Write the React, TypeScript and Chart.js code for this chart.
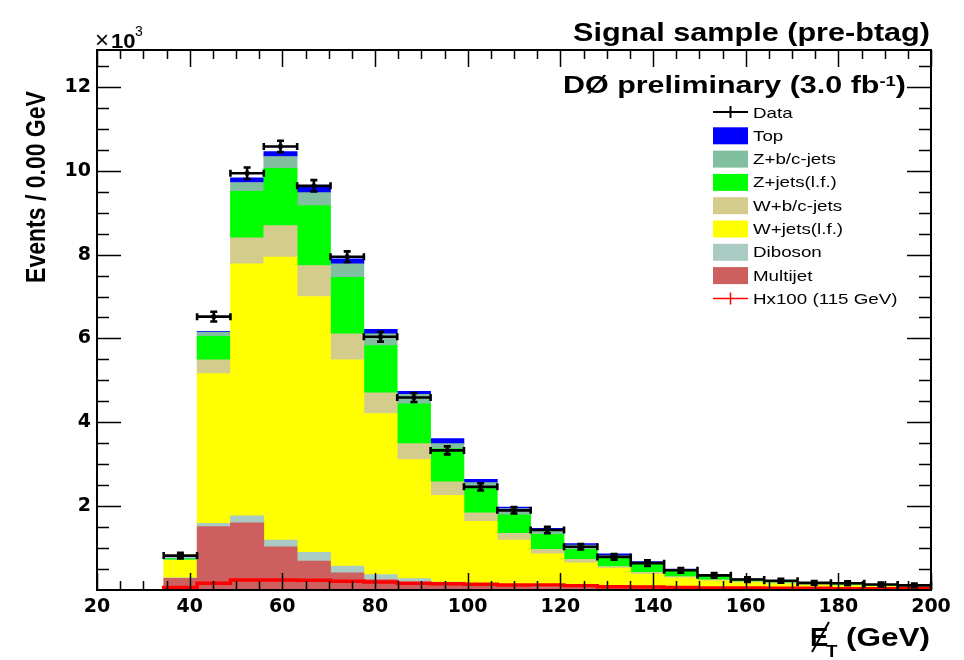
import React, { useEffect, useRef } from 'react';
import { Chart, registerables } from 'chart.js';

Chart.register(...registerables);

// ---- data (values in units of 10^3 events) ----
const binEdges = [20, 27.2, 34.4, 41.6, 48.8, 56, 63.2, 70.4, 77.6, 84.8, 92, 99.2, 106.4, 113.6, 120.8, 128, 135.2, 142.4, 149.6, 156.8, 164, 171.2, 178.4, 185.6, 192.8, 200];

const multijet = [0, 0, 0.28, 1.51, 1.60, 1.03, 0.69, 0.41, 0.25, 0.18, 0.13, 0.10, 0.08, 0.06, 0.05, 0.04, 0.03, 0.03, 0.02, 0.02, 0.02, 0.01, 0.01, 0.01, 0.01];
const diboson = [0, 0, 0.01, 0.08, 0.17, 0.16, 0.21, 0.16, 0.12, 0.09, 0.06, 0.04, 0.03, 0.03, 0.02, 0.02, 0.02, 0.01, 0.01, 0.01, 0.00, 0.01, 0.01, 0.01, 0.00];
const wjetsLF = [0, 0, 0.42, 3.57, 6.01, 6.75, 6.10, 4.92, 3.84, 2.84, 2.07, 1.50, 1.08, 0.77, 0.58, 0.46, 0.33, 0.25, 0.19, 0.15, 0.13, 0.10, 0.08, 0.06, 0.06];
const wbcJets = [0, 0, 0.01, 0.33, 0.62, 0.75, 0.74, 0.62, 0.49, 0.38, 0.32, 0.20, 0.16, 0.11, 0.08, 0.04, 0.04, 0.03, 0.02, 0.02, 0.02, 0.01, 0.01, 0.01, 0.01];
const zjetsLF = [0, 0, 0.03, 0.56, 1.11, 1.37, 1.43, 1.35, 1.13, 0.95, 0.79, 0.58, 0.44, 0.36, 0.24, 0.20, 0.19, 0.13, 0.10, 0.05, 0.03, 0.02, 0.02, 0.01, 0.01];
const zbcJets = [0, 0, 0.00, 0.10, 0.21, 0.28, 0.31, 0.32, 0.28, 0.23, 0.12, 0.14, 0.15, 0.09, 0.10, 0.06, 0.04, 0.03, 0.02, 0.02, 0.01, 0.01, 0.01, 0.01, 0.00];
const topQuark = [0, 0, 0.01, 0.02, 0.11, 0.12, 0.14, 0.12, 0.11, 0.07, 0.12, 0.08, 0.04, 0.05, 0.04, 0.04, 0.03, 0.02, 0.01, 0.01, 0.01, 0.01, 0.01, 0.01, 0.01];

const dataValues = [0, 0, 0.82, 6.52, 9.94, 10.58, 9.64, 7.95, 6.04, 4.59, 3.33, 2.46, 1.90, 1.43, 1.03, 0.79, 0.64, 0.47, 0.35, 0.25, 0.22, 0.17, 0.16, 0.13, 0.11];
const dataErrors = [0, 0, 0.03, 0.08, 0.10, 0.10, 0.10, 0.09, 0.08, 0.07, 0.06, 0.05, 0.04, 0.04, 0.03, 0.03, 0.03, 0.02, 0.02, 0.02, 0.01, 0.01, 0.01, 0.01, 0.01];
const signalHx100 = [0, 0, 0.02, 0.06, 0.16, 0.24, 0.24, 0.23, 0.21, 0.19, 0.16, 0.15, 0.14, 0.12, 0.12, 0.10, 0.08, 0.07, 0.06, 0.05, 0.05, 0.04, 0.04, 0.03, 0.03];

const xTickLabels = [20, 40, 60, 80, 100, 120, 140, 160, 180, 200];
const yTickLabels = [2, 4, 6, 8, 10, 12];

const backgrounds = [
  { label: 'Multijet', values: multijet, color: '#cd5f5f' },
  { label: 'Diboson', values: diboson, color: '#aacbc3' },
  { label: 'W+jets(l.f.)', values: wjetsLF, color: '#ffff00' },
  { label: 'W+b/c-jets', values: wbcJets, color: '#d4cc8c' },
  { label: 'Z+jets(l.f.)', values: zjetsLF, color: '#00ff00' },
  { label: 'Z+b/c-jets', values: zbcJets, color: '#80c0a0' },
  { label: 'Top', values: topQuark, color: '#0000ff' },
];

const legendOrder = ['Data', 'Top', 'Z+b/c-jets', 'Z+jets(l.f.)', 'W+b/c-jets', 'W+jets(l.f.)', 'Diboson', 'Multijet', 'Hx100 (115 GeV)'];

const binCenters = binEdges.slice(0, -1).map((e, i) => (e + binEdges[i + 1]) / 2);

const SANS = '"Liberation Sans", Arial, Helvetica, sans-serif';

function drawStretched(ctx: CanvasRenderingContext2D, text: string, x: number, y: number, font: string, sx: number) {
  ctx.save();
  ctx.font = font;
  ctx.textAlign = 'left';
  ctx.textBaseline = 'alphabetic';
  ctx.translate(x, y);
  ctx.scale(sx, 1);
  ctx.fillText(text, 0, 0);
  ctx.restore();
  ctx.font = font;
  return ctx.measureText(text).width * sx;
}

const framePlugin = {
  id: 'frameTicks',
  afterDatasetsDraw(chart: any) {
    const { ctx, chartArea, scales } = chart;
    const { left, right, top, bottom } = chartArea;
    const xs = scales.x;
    const ys = scales.y;
    ctx.save();
    // error bars on data
    ctx.strokeStyle = '#000';
    ctx.lineWidth = 2.6;
    ctx.beginPath();
    dataValues.forEach((v, i) => {
      if (v <= 0) return;
      const xl = xs.getPixelForValue(binEdges[i]);
      const xr = xs.getPixelForValue(binEdges[i + 1]);
      const xc = xs.getPixelForValue(binCenters[i]);
      const yc = ys.getPixelForValue(v);
      const yh = ys.getPixelForValue(v + dataErrors[i]);
      const yl = ys.getPixelForValue(v - dataErrors[i]);
      ctx.moveTo(xl, yc); ctx.lineTo(xr, yc);
      ctx.moveTo(xl, yc - 3.5); ctx.lineTo(xl, yc + 3.5);
      ctx.moveTo(xr, yc - 3.5); ctx.lineTo(xr, yc + 3.5);
      ctx.moveTo(xc, yh - 1.5); ctx.lineTo(xc, yl + 1.5);
      ctx.moveTo(xc - 3.5, yh - 1.5); ctx.lineTo(xc + 3.5, yh - 1.5);
      ctx.moveTo(xc - 3.5, yl + 1.5); ctx.lineTo(xc + 3.5, yl + 1.5);
    });
    ctx.stroke();

    // frame
    ctx.lineWidth = 2;
    ctx.strokeRect(left, top, right - left, bottom - top);
    // ticks (inward, ROOT style)
    ctx.lineWidth = 1.5;
    ctx.beginPath();
    for (let v = 20; v <= 200.001; v += 5) {
      const px = Math.round(xs.getPixelForValue(v)) + 0.5;
      const major = Math.abs(v % 20) < 0.001;
      const L = major ? 17 : 9;
      ctx.moveTo(px, bottom); ctx.lineTo(px, bottom - L);
      ctx.moveTo(px, top); ctx.lineTo(px, top + L);
    }
    for (let v = 0.5; v <= ys.max; v += 0.5) {
      const py = Math.round(ys.getPixelForValue(v)) + 0.5;
      const major = Math.abs(v % 2) < 0.001;
      const L = major ? 24 : 12;
      ctx.moveTo(left, py); ctx.lineTo(left + L, py);
      ctx.moveTo(right, py); ctx.lineTo(right - L, py);
    }
    ctx.stroke();
    ctx.restore();
  },
  afterDraw(chart: any) {
    const { ctx } = chart;
    ctx.save();
    ctx.fillStyle = '#000';

    // Title
    {
      const font = `bold 25px ${SANS}`;
      ctx.font = font;
      const w = ctx.measureText('Signal sample (pre-btag)').width;
      const sx = (930 - 573) / w;
      drawStretched(ctx, 'Signal sample (pre-btag)', 573, 41, font, sx);
    }
    // DØ preliminary
    {
      const f1 = `bold 23px ${SANS}`;
      const f2 = `bold 14px ${SANS}`;
      ctx.font = f1;
      const wa = ctx.measureText('DØ preliminary (3.0 fb').width;
      const wc = ctx.measureText(')').width;
      ctx.font = f2;
      const wb = ctx.measureText('-1').width;
      const sx = (906 - 563) / (wa + wb + wc);
      let x = 563;
      x += drawStretched(ctx, 'DØ preliminary (3.0 fb', x, 93, f1, sx);
      x += drawStretched(ctx, '-1', x, 86, f2, sx);
      drawStretched(ctx, ')', x, 93, f1, sx);
    }
    // x10^3
    {
      drawStretched(ctx, '×', 95, 48, `24px ${SANS}`, 1.0);
      drawStretched(ctx, '10', 111, 48, `bold 21px ${SANS}`, 1.05);
      drawStretched(ctx, '3', 135, 36, `14px ${SANS}`, 1.0);
    }
    // y axis title
    {
      ctx.save();
      ctx.translate(45, 187);
      ctx.rotate(-Math.PI / 2);
      ctx.scale(1, 1.2);
      ctx.font = `bold 23px ${SANS}`;
      ctx.textAlign = 'center';
      ctx.textBaseline = 'alphabetic';
      ctx.fillText('Events / 0.00 GeV', 0, 0);
      ctx.restore();
    }
    // x axis title: E-slash_T (GeV)
    {
      const f = `bold 25px ${SANS}`;
      drawStretched(ctx, 'E', 810, 646, f, 1.1);
      ctx.strokeStyle = '#000';
      ctx.lineWidth = 2;
      ctx.beginPath();
      ctx.moveTo(812, 652);
      ctx.lineTo(829, 622);
      ctx.stroke();
      drawStretched(ctx, 'T', 826, 657, `bold 17px ${SANS}`, 1.1);
      ctx.font = f;
      const w = ctx.measureText('(GeV)').width;
      drawStretched(ctx, '(GeV)', 846, 646, f, (930 - 846) / w);
    }
    // legend
    {
      const colors: Record<string, string> = {};
      backgrounds.forEach((b) => { colors[b.label] = b.color; });
      const lf = `15px ${SANS}`;
      legendOrder.forEach((label, i) => {
        const cy = 112 + i * 23.3;
        const bx = 713;
        const bw = 35;
        if (label === 'Data' || label.startsWith('Hx')) {
          ctx.strokeStyle = label === 'Data' ? '#000' : '#ff0000';
          ctx.lineWidth = label === 'Data' ? 2 : 1.5;
          ctx.beginPath();
          ctx.moveTo(bx, cy); ctx.lineTo(bx + bw, cy);
          ctx.moveTo(bx + bw / 2, cy - 6); ctx.lineTo(bx + bw / 2, cy + 6);
          ctx.stroke();
        } else {
          ctx.fillStyle = colors[label];
          ctx.fillRect(bx, cy - 8, bw, 17);
        }
        ctx.fillStyle = '#000';
        drawStretched(ctx, label, 753, cy + 5.5, lf, 1.25);
      });
    }
    ctx.restore();
  },
};

export default function App() {
  const ref = useRef<HTMLCanvasElement>(null);

  useEffect(() => {
    const canvas = ref.current;
    if (!canvas) return;

    const barSets = backgrounds.map((b) => ({
      type: 'bar' as const,
      label: b.label,
      data: binCenters.map((x, i) => ({ x, y: b.values[i] })),
      backgroundColor: b.color,
      borderWidth: 0,
      barPercentage: 1,
      categoryPercentage: 1,
      stack: 'bkg',
    }));

    const chart = new Chart(canvas, {
      type: 'bar',
      data: {
        datasets: [
          {
            type: 'line',
            label: 'Data',
            data: binCenters.map((x, i) => ({ x, y: dataValues[i] > 0 ? dataValues[i] : null })),
            showLine: false,
            pointStyle: 'rect',
            pointRadius: 3,
            pointBackgroundColor: '#000',
            pointBorderColor: '#000',
            pointBorderWidth: 0,
            stack: 'data',
          } as any,
          {
            type: 'line',
            label: 'Hx100 (115 GeV)',
            data: binEdges.map((x, i) => {
              const v = i < signalHx100.length ? signalHx100[i] : signalHx100[signalHx100.length - 1];
              return { x, y: v > 0 ? v : null };
            }),
            stepped: 'after',
            borderColor: '#ff0000',
            borderWidth: 3.5,
            pointRadius: 0,
            fill: false,
            spanGaps: false,
            stack: 'sig',
          } as any,
          ...barSets,
        ],
      },
      options: {
        responsive: false,
        animation: false,
        devicePixelRatio: 1,
        layout: { padding: { left: 0, top: 50, right: 33, bottom: 0 } },
        plugins: {
          legend: { display: false },
          tooltip: { enabled: false },
          title: { display: false },
        },
        scales: {
          x: {
            type: 'linear',
            min: 20,
            max: 200,
            offset: false,
            grid: { display: false, drawTicks: false },
            border: { display: false },
            ticks: {
              stepSize: 20,
              includeBounds: false,
              autoSkip: false,
              maxRotation: 0,
              padding: 6,
              color: '#000',
              font: { family: 'DejaVu Sans', weight: 'bold', size: 19 },
              callback: (v: any) => (xTickLabels.includes(Number(v)) ? String(v) : ''),
            },
            afterFit: (s: any) => { s.height = 70; },
          },
          y: {
            type: 'linear',
            stacked: true,
            min: 0,
            max: 12.88,
            grid: { display: false, drawTicks: false },
            border: { display: false },
            ticks: {
              stepSize: 2,
              includeBounds: false,
              padding: 6,
              color: '#000',
              font: { family: 'DejaVu Sans', weight: 'bold', size: 19 },
              callback: (v: any) => (yTickLabels.includes(Number(v)) ? String(v) : ''),
            },
            afterFit: (s: any) => { s.width = 97; },
          },
        },
      } as any,
      plugins: [framePlugin],
    });

    return () => chart.destroy();
  }, []);

  return (
    <div style={{ position: 'absolute', left: 0, top: 0, width: 964, height: 660, background: '#fff' }}>
      <canvas ref={ref} width={964} height={660} style={{ display: 'block', width: 964, height: 660 }} />
    </div>
  );
}
